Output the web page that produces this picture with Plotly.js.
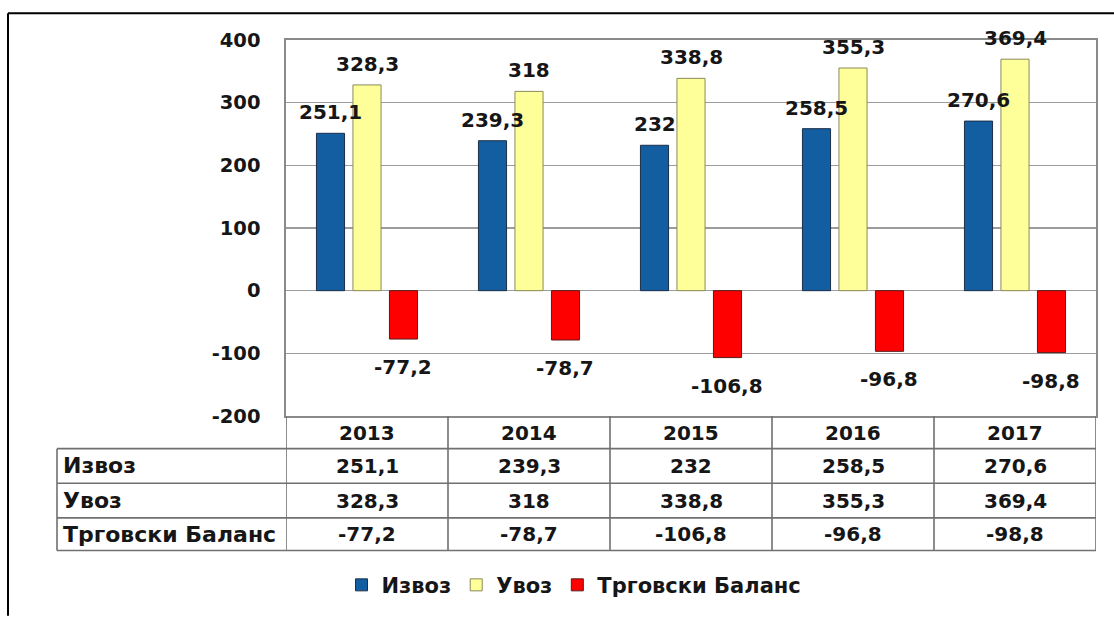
<!DOCTYPE html>
<html>
<head>
<meta charset="utf-8">
<script src="https://cdn.plot.ly/plotly-3.0.1.min.js"></script>
<style>
  html, body { margin: 0; padding: 0; background: #ffffff; }
  #chart { width: 1114px; height: 617px; }
</style>
</head>
<body>
<div id="chart"></div>
<script>
// ---- data ----
const years = ['2013', '2014', '2015', '2016', '2017'];
const seriesNames = ['Извоз', 'Увоз', 'Трговски Баланс'];
const izvoz = [251.1, 239.3, 232, 258.5, 270.6];
const uvoz = [328.3, 318, 338.8, 355.3, 369.4];
const balans = [-77.2, -78.7, -106.8, -96.8, -98.8];
const yTicks = [-200, -100, 0, 100, 200, 300, 400];

// ---- layout geometry (pixels) ----
const W = 1114, H = 617;
const PL = 286, PR = 1096, PT = 40, PB = 420;
const px = v => (v - PL) / (PR - PL);   // pixel x -> paper x
const py = v => (PB - v) / (PB - PT);   // pixel y -> paper y

const colors = ['#135DA1', '#FFFF99', '#FF0000'];
const outlines = ['#1b2f4a', '#8a8a5a', '#5a1a1a'];
const allSeries = [izvoz, uvoz, balans];
const fmt = v => String(v).replace('.', ',');
const FONT = 'DejaVu Sans, Arial, sans-serif';
const TXT = '#161616';

const traces = allSeries.map((vals, s) => ({
  type: 'bar',
  name: seriesNames[s],
  x: years,
  y: vals,
  marker: { color: colors[s], line: { color: outlines[s], width: 1 } },
  hoverinfo: 'x+y+name'
}));

const annotations = [];
const slot = 0.225; // slot offset of grouped bars in category units
allSeries.forEach((vals, s) => {
  vals.forEach((v, i) => {
    annotations.push({
      xref: 'x', yref: 'y', x: i + (s - 1) * slot, y: v,
      text: fmt(v), showarrow: false,
      xanchor: 'center', yanchor: 'middle',
      yshift: v >= 0 ? 21 : -28,
      font: { family: FONT, size: 20, weight: 700, color: TXT }
    });
  });
});

// table rows (pixel centers)
const headerY = 437;
const rowY = [470.5, 505.5, 539.5];
years.forEach((yr, i) => {
  annotations.push({
    xref: 'x', yref: 'paper', x: i, y: py(headerY), text: yr, showarrow: false,
    xanchor: 'center', yanchor: 'middle',
    font: { family: FONT, size: 20, weight: 700, color: TXT }
  });
});
allSeries.forEach((vals, s) => {
  annotations.push({
    xref: 'paper', yref: 'paper', x: px(61), y: py(rowY[s]), text: seriesNames[s],
    showarrow: false, xanchor: 'left', yanchor: 'middle',
    font: { family: FONT, size: 22, weight: 700, color: TXT }
  });
  vals.forEach((v, i) => {
    annotations.push({
      xref: 'x', yref: 'paper', x: i, y: py(rowY[s]), text: fmt(v), showarrow: false,
      xanchor: 'center', yanchor: 'middle',
      font: { family: FONT, size: 20, weight: 700, color: TXT }
    });
  });
});

// table lines
const tableLine = { color: '#707070', width: 1.6 };
const shapes = [];
[453, 488, 523, 556].forEach(yy => {
  shapes.push({ type: 'line', xref: 'paper', yref: 'paper',
    x0: px(57), x1: 1, y0: py(yy), y1: py(yy), line: tableLine });
});
shapes.push({ type: 'line', xref: 'paper', yref: 'paper',
  x0: px(57), x1: px(57), y0: py(453), y1: py(556), line: tableLine });
for (let k = 0; k <= years.length; k++) {
  shapes.push({ type: 'line', xref: 'x', yref: 'paper',
    x0: k - 0.5, x1: k - 0.5, y0: 0, y1: py(556), line: tableLine });
}
// outer frame (left & top black lines)
shapes.push({ type: 'line', xref: 'paper', yref: 'paper',
  x0: px(8), x1: px(8), y0: py(13), y1: py(H + 5), line: { color: '#000', width: 2 } });
shapes.push({ type: 'line', xref: 'paper', yref: 'paper',
  x0: px(8), x1: px(W + 5), y0: py(13), y1: py(13), line: { color: '#000', width: 2 } });

const layout = {
  width: W, height: H,
  margin: { l: PL, r: W - PR, t: PT, b: H - PB, pad: 0 },
  paper_bgcolor: '#ffffff', plot_bgcolor: '#ffffff',
  barmode: 'group', bargap: 0.324, bargroupgap: 0.23,
  showlegend: true,
  legend: {
    orientation: 'h', x: px(574), xanchor: 'center', y: py(591), yanchor: 'middle',
    font: { family: FONT, size: 21, weight: 700, color: TXT },
    itemwidth: 30, traceorder: 'normal', bgcolor: 'rgba(0,0,0,0)'
  },
  xaxis: {
    type: 'category', range: [-0.5, years.length - 0.5],
    showticklabels: false, showgrid: false, zeroline: false,
    showline: true, mirror: true, linecolor: '#8a8a8a', linewidth: 1.6, ticks: ''
  },
  yaxis: {
    range: [-200, 400], tickvals: yTicks, ticktext: yTicks.map(String),
    showgrid: true, gridcolor: '#9c9c9c', gridwidth: 1.6, zeroline: false,
    showline: true, mirror: true, linecolor: '#8a8a8a', linewidth: 1.6,
    ticks: '', ticklabelstandoff: 20,
    tickfont: { family: FONT, size: 19.5, weight: 700, color: TXT }
  },
  annotations: annotations,
  shapes: shapes
};

Plotly.newPlot('chart', traces, layout, { displayModeBar: false, staticPlot: true });
</script>
</body>
</html>
